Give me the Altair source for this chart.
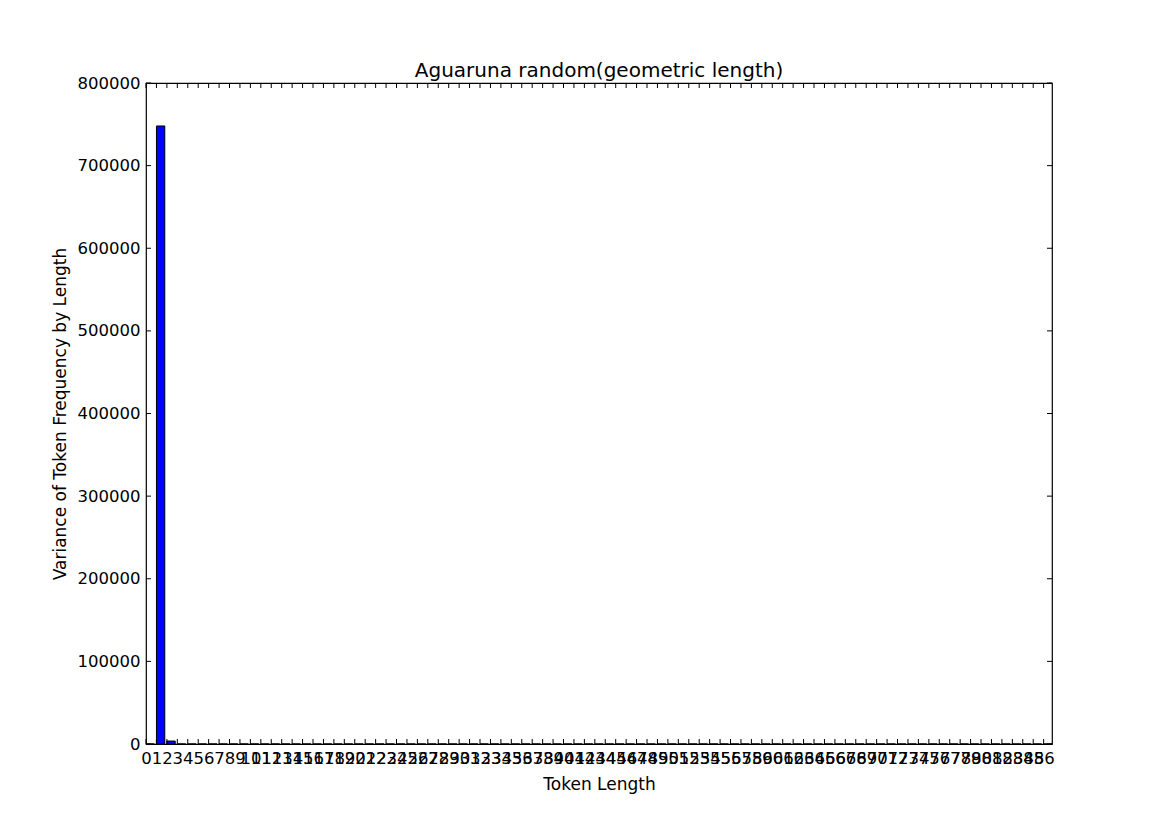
import altair as alt
import pandas as pd

lengths = list(range(0, 87))
variances = [0, 748000, 3600] + [0] * 84
x_ticks = list(range(0, 87))
y_ticks = [0, 100000, 200000, 300000, 400000, 500000, 600000, 700000, 800000]

W, H = 906, 661
FONT = "DejaVu Sans"

bars_df = pd.DataFrame({"length": lengths, "variance": variances})
xt_df = pd.DataFrame({"t": x_ticks})
yt_df = pd.DataFrame({"t": y_ticks})

xscale = alt.Scale(domain=[0, 86.8], nice=False, zero=False)
yscale = alt.Scale(domain=[0, 800000], nice=False)

xaxis = alt.Axis(values=x_ticks, labelOverlap=False, ticks=False,
                 domain=False, grid=False, labelFontSize=16.5,
                 labelFont=FONT, labelColor="black", labelPadding=6,
                 title="Token Length", titleFont=FONT, titleFontSize=17,
                 titleFontWeight="normal", titleColor="black",
                 titlePadding=10, format="d", labelFlush=False,
                 labelBound=False)
yaxis = alt.Axis(values=y_ticks, ticks=False, domain=False, grid=False,
                 labelFontSize=16.5, labelFont=FONT, labelColor="black",
                 labelPadding=6, format="d", labelOverlap=False,
                 title="Variance of Token Frequency by Length",
                 titleFont=FONT, titleFontSize=17,
                 titleFontWeight="normal", titleColor="black",
                 titlePadding=8)

bars = alt.Chart(bars_df).transform_calculate(
    right="datum.length + 0.8"
).mark_bar(color="#0000ff", stroke="black", strokeWidth=1).encode(
    x=alt.X("length:Q", scale=xscale, axis=xaxis),
    x2="right:Q",
    y=alt.Y("variance:Q", scale=yscale, axis=yaxis),
    y2=alt.datum(0),
)

bottom_ticks = alt.Chart(xt_df).mark_rule(color="black", strokeWidth=1).encode(
    x=alt.X("t:Q", scale=xscale, axis=xaxis), y=alt.value(H), y2=alt.value(H - 5))
top_ticks = alt.Chart(xt_df).mark_rule(color="black", strokeWidth=1).encode(
    x=alt.X("t:Q", scale=xscale, axis=xaxis), y=alt.value(0), y2=alt.value(5))
left_ticks = alt.Chart(yt_df).mark_rule(color="black", strokeWidth=1).encode(
    y=alt.Y("t:Q", scale=yscale, axis=yaxis), x=alt.value(0), x2=alt.value(5))
right_ticks = alt.Chart(yt_df).mark_rule(color="black", strokeWidth=1).encode(
    y=alt.Y("t:Q", scale=yscale, axis=yaxis), x=alt.value(W), x2=alt.value(W - 5))

chart = alt.layer(bars, bottom_ticks, top_ticks, left_ticks, right_ticks).properties(
    width=W, height=H,
    background="white",
    title=alt.TitleParams("Aguaruna random(geometric length)", font=FONT,
                          fontSize=20, fontWeight="normal", color="black",
                          offset=3, dy=9),
    autosize=alt.AutoSizeParams(type="none"),
    padding={"left": 146, "top": 83, "right": 117, "bottom": 83},
).configure_view(stroke="black", strokeWidth=1.2)

chart.save("out.html", embed_options={"renderer": "svg", "actions": False})
